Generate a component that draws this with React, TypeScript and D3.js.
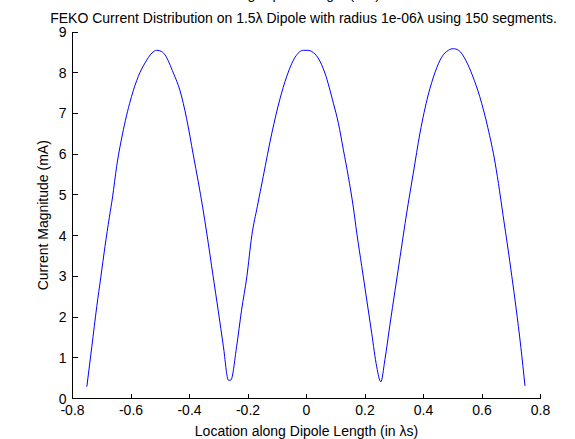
import React from 'react';
import * as d3 from 'd3';

// positions along the dipole (in wavelengths)
const positions = [
  -0.751, -0.734, -0.717, -0.703, -0.689, -0.674, -0.663, -0.649, -0.626, -0.598,
  -0.575, -0.552, -0.529, -0.512, -0.495, -0.484, -0.455, -0.432, -0.41, -0.387,
  -0.37, -0.355, -0.341, -0.319, -0.302, -0.284, -0.267, -0.259, -0.239, -0.222,
  -0.204, -0.187, -0.168, -0.148, -0.119, -0.091, -0.068, -0.039, -0.011, 0.005,
  0.018, 0.04, 0.063, 0.092, 0.109, 0.126, 0.143, 0.16, 0.172, 0.189,
  0.206, 0.223, 0.24, 0.254, 0.268, 0.285, 0.303, 0.32, 0.337, 0.348,
  0.365, 0.388, 0.416, 0.44, 0.462, 0.485, 0.502, 0.52, 0.545, 0.568,
  0.592, 0.62, 0.645, 0.66, 0.672, 0.688, 0.702, 0.716, 0.733, 0.747,
];

// current magnitude (mA)
const magnitudes = [
  0.29, 1.27, 2.26, 2.99, 3.73, 4.45, 4.95, 5.7, 6.6, 7.42,
  7.91, 8.24, 8.48, 8.55, 8.52, 8.44, 7.99, 7.55, 6.88, 5.98,
  5.32, 4.7, 4.06, 2.99, 2.17, 1.27, 0.45, 0.45, 1.27, 2.17,
  2.99, 4.0, 4.72, 5.45, 6.5, 7.35, 7.9, 8.38, 8.55, 8.55,
  8.52, 8.36, 7.99, 7.25, 6.76, 6.11, 5.45, 4.7, 4.06, 3.24,
  2.42, 1.6, 0.78, 0.41, 0.95, 1.8, 2.67, 3.48, 4.3, 4.8,
  5.53, 6.52, 7.45, 8.02, 8.38, 8.55, 8.59, 8.55, 8.3, 7.92,
  7.42, 6.65, 5.78, 5.1, 4.5, 3.72, 3.0, 2.25, 1.25, 0.31,
];

const xTicks = [-0.8, -0.6, -0.4, -0.2, 0, 0.2, 0.4, 0.6, 0.8];
const yTicks = [0, 1, 2, 3, 4, 5, 6, 7, 8, 9];

const W = 575;
const H = 439;
const font = 'Arial, "Liberation Sans", sans-serif';
const fs = 14;

export default function App() {
  const x = d3.scaleLinear().domain([-0.8, 0.8]).range([72.5, 540.5]);
  const y = d3.scaleLinear().domain([0, 9]).range([398.5, 32]);

  const pts = positions.map((p, i) => [p, magnitudes[i]] as [number, number]);
  const line = d3.line<[number, number]>()
    .x(d => x(d[0]))
    .y(d => y(d[1]))
    .curve(d3.curveMonotoneX);

  const x0 = x(-0.8);
  const x1 = x(0.8);
  const y0 = y(0);
  const y1 = y(9);
  const cx = (x0 + x1) / 2;

  return (
    <svg width={W} height={H} style={{ position: 'absolute', left: 0, top: 0, background: '#fff' }}
      fontFamily={font}>
      <rect width={W} height={H} fill="#fff" />
      {/* first title line, clipped by the top edge in the original */}
      <text x={cx - 6} y={-1} fontSize={fs} textAnchor="middle">along Dipole Length (mA)</text>
      <text x={cx - 3} y={23} fontSize={fs} textAnchor="middle">
        FEKO Current Distribution on 1.5λ Dipole with radius 1e-06λ using 150 segments.
      </text>

      <path d={line(pts) ?? ''} fill="none" stroke="#0000ff" strokeWidth={1} />

      {/* axes */}
      <g stroke="#000" strokeWidth={1} shapeRendering="crispEdges">
        <line x1={x0} x2={x1} y1={y0} y2={y0} />
        <line x1={x0} x2={x0} y1={y0} y2={y1} />
        {xTicks.map(t => (
          <line key={t} x1={x(t)} x2={x(t)} y1={y0} y2={y0 - 5} />
        ))}
        {yTicks.map(t => (
          <line key={t} x1={x0} x2={x0 + 5} y1={y(t)} y2={y(t)} />
        ))}
      </g>

      {xTicks.map(t => (
        <text key={t} x={x(t)} y={y0 + 16} fontSize={fs} textAnchor="middle">{t}</text>
      ))}
      {yTicks.map(t => (
        <text key={t} x={x0 - 6} y={y(t) + 5} fontSize={fs} textAnchor="end">{t}</text>
      ))}

      <text x={cx} y={y0 + 37} fontSize={fs} textAnchor="middle">Location along Dipole Length (in λs)</text>
      <text transform={`translate(48,${(y0 + y1) / 2}) rotate(-90)`} fontSize={fs} textAnchor="middle">
        Current Magnitude (mA)
      </text>
    </svg>
  );
}
